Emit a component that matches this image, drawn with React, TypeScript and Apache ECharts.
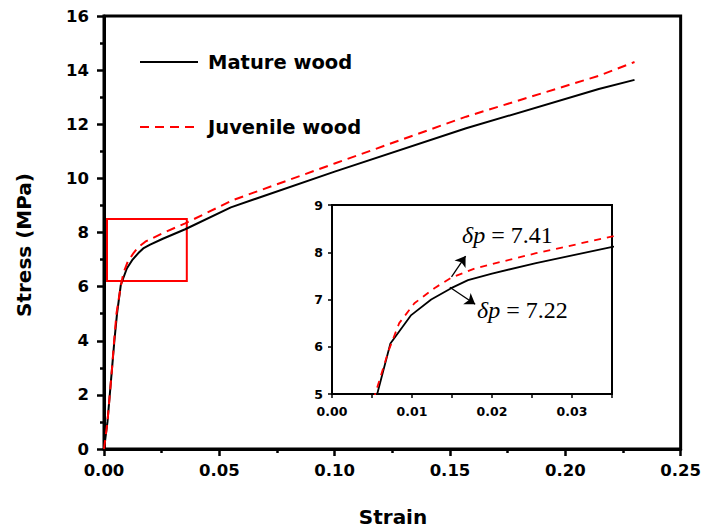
import React, { useEffect, useRef } from "react";
import * as echarts from "echarts";

const strainMature = [0, 0.0015, 0.0025, 0.0035, 0.0045, 0.00565, 0.0073, 0.0099, 0.0124, 0.0149, 0.017, 0.02, 0.0255, 0.0352, 0.055, 0.1, 0.157, 0.2145, 0.23];
const stressMature = [0, 1.0, 2.0, 3.0, 4.0, 5.0, 6.07, 6.67, 7.0, 7.24, 7.41, 7.55, 7.77, 8.12, 8.93, 10.25, 11.85, 13.3, 13.64];

const strainJuvenile = [0, 0.0015, 0.0025, 0.0035, 0.0044, 0.0054, 0.0071, 0.0084, 0.0103, 0.0128, 0.0149, 0.0179, 0.0255, 0.0352, 0.056, 0.1, 0.157, 0.2145, 0.23];
const stressJuvenile = [0, 1.0, 2.0, 3.0, 4.0, 5.0, 5.93, 6.5, 6.92, 7.24, 7.46, 7.66, 7.98, 8.34, 9.2, 10.55, 12.28, 13.79, 14.3];

// zoom box on the main chart: [xMin, yMin, xMax, yMax]
const zoomBox = [0.0013, 6.21, 0.0359, 8.5];

// arrows in inset: [x0, y0, x1, y1]
const arrowJuvenile = [0.01494, 7.48, 0.0167, 7.92];
const arrowMature = [0.01473, 7.26, 0.0179, 6.9];

const labelJuvenile = "7.41";
const labelMature = "7.22";

const seriesNames = ["Mature wood", "Juvenile wood"];

const pairs = (xs: number[], ys: number[]) => xs.map((x, i) => [x, ys[i]]);

const FONT = "DejaVu Sans";

export default function App() {
  const ref = useRef<HTMLDivElement>(null);
  useEffect(() => {
    if (!ref.current) return;
    const chart = echarts.init(ref.current, null, { renderer: "svg" });
    const mature = pairs(strainMature, stressMature);
    const juvenile = pairs(strainJuvenile, stressJuvenile);
    const blackLine = { color: "#000", width: 2, type: "solid" as const };
    const redLine = { color: "#ff0000", width: 2, type: [9, 6] as any };
    const mainLabel = { fontFamily: FONT, fontWeight: "bold" as const, fontSize: 16.5, color: "#000" };
    const insetLabel = { fontFamily: FONT, fontWeight: "bold" as const, fontSize: 12.5, color: "#000" };
    chart.setOption({
      animation: false,
      backgroundColor: "#fff",
      legend: {
        data: seriesNames,
        orient: "vertical",
        left: 134,
        top: 47,
        itemWidth: 58,
        itemHeight: 14,
        itemGap: 45,
        itemStyle: { opacity: 0 },
        textStyle: { fontFamily: FONT, fontWeight: "bold", fontSize: 19.5, color: "#000", padding: [0, 0, 0, 5] },
        selectedMode: false,
      },
      grid: [
        { left: 104, right: 21, top: 16, bottom: 80, show: true, borderColor: "#000", borderWidth: 3, backgroundColor: "transparent" },
        { left: 332, top: 205, width: 280, height: 189, show: true, borderColor: "#000", borderWidth: 2, backgroundColor: "#fff" },
      ],
      xAxis: [
        {
          type: "value", gridIndex: 0, min: 0, max: 0.25, interval: 0.05,
          axisLine: { show: true, lineStyle: { color: "#000", width: 3 } },
          axisTick: { show: true, inside: false, length: 7, lineStyle: { color: "#000", width: 2.5 } },
          minorTick: { show: true, splitNumber: 2, length: 4, lineStyle: { color: "#000", width: 2.5 } },
          splitLine: { show: false },
          axisLabel: { ...mainLabel, margin: 13, formatter: (v: number) => v.toFixed(2) },
        },
        {
          type: "value", gridIndex: 1, min: 0, max: 0.035, interval: 0.01,
          axisLine: { show: true, lineStyle: { color: "#000", width: 2 } },
          axisTick: { show: true, inside: false, length: 4, lineStyle: { color: "#000", width: 1.5 } },
          minorTick: { show: true, splitNumber: 2, length: 4, lineStyle: { color: "#000", width: 1.5 } },
          splitLine: { show: false },
          axisLabel: { ...insetLabel, margin: 11, showMaxLabel: false, formatter: (v: number) => v.toFixed(2) },
        },
      ],
      yAxis: [
        {
          type: "value", gridIndex: 0, min: 0, max: 16, interval: 2,
          axisLine: { show: true, lineStyle: { color: "#000", width: 3 } },
          axisTick: { show: true, inside: false, length: 7, lineStyle: { color: "#000", width: 2.5 } },
          minorTick: { show: true, splitNumber: 2, length: 4, lineStyle: { color: "#000", width: 2.5 } },
          splitLine: { show: false },
          axisLabel: { ...mainLabel, margin: 15 },
        },
        {
          type: "value", gridIndex: 1, min: 5, max: 9, interval: 1,
          axisLine: { show: true, lineStyle: { color: "#000", width: 2 } },
          axisTick: { show: true, inside: false, length: 4, lineStyle: { color: "#000", width: 1.5 } },
          splitLine: { show: false },
          axisLabel: { ...insetLabel, margin: 9 },
        },
      ],
      series: [
        {
          name: seriesNames[0], type: "line", xAxisIndex: 0, yAxisIndex: 0, data: mature,
          symbol: "none", lineStyle: blackLine, itemStyle: { color: "#000" }, z: 3,
          markArea: {
            silent: true,
            itemStyle: { color: "rgba(0,0,0,0)", borderColor: "#ff0000", borderWidth: 2 },
            data: [[{ xAxis: zoomBox[0], yAxis: zoomBox[3] }, { xAxis: zoomBox[2], yAxis: zoomBox[1] }]],
          },
        },
        {
          name: seriesNames[1], type: "line", xAxisIndex: 0, yAxisIndex: 0, data: juvenile,
          symbol: "none", lineStyle: redLine, itemStyle: { color: "#ff0000" }, z: 3,
        },
        {
          name: seriesNames[0], type: "line", xAxisIndex: 1, yAxisIndex: 1, data: mature,
          symbol: "none", lineStyle: { ...blackLine, width: 1.8 }, itemStyle: { color: "#000" }, clip: true, z: 4,
          markLine: {
            silent: true,
            symbol: ["none", "arrow"],
            symbolSize: 10,
            label: { show: false },
            lineStyle: { color: "#000", width: 1.3, type: "solid" },
            data: [
              [{ coord: [arrowJuvenile[0], arrowJuvenile[1]] }, { coord: [arrowJuvenile[2], arrowJuvenile[3]] }],
              [{ coord: [arrowMature[0], arrowMature[1]] }, { coord: [arrowMature[2], arrowMature[3]] }],
            ],
          },
        },
        {
          name: seriesNames[1], type: "line", xAxisIndex: 1, yAxisIndex: 1, data: juvenile,
          symbol: "none", lineStyle: { ...redLine, width: 1.8, type: [7, 6] }, itemStyle: { color: "#ff0000" }, clip: true, z: 4,
        },
      ],
      graphic: [
        {
          type: "text", x: 24, y: 245, rotation: Math.PI / 2,
          style: { text: "Stress (MPa)", fontFamily: FONT, fontWeight: "bold", fontSize: 20, fill: "#000", textAlign: "center", textVerticalAlign: "middle" },
        },
        {
          type: "text", x: 393, y: 517,
          style: { text: "Strain", fontFamily: FONT, fontWeight: "bold", fontSize: 20, fill: "#000", textAlign: "center", textVerticalAlign: "middle" },
        },
        {
          type: "text", x: 462, y: 235, z: 10,
          style: {
            text: "{i|δp} = " + labelJuvenile,
            fontFamily: "Liberation Serif", fontSize: 24, fill: "#000", textVerticalAlign: "middle",
            rich: { i: { fontFamily: "Liberation Serif", fontStyle: "italic", fontSize: 24, fill: "#000" } },
          },
        },
        {
          type: "text", x: 477, y: 310, z: 10,
          style: {
            text: "{i|δp} = " + labelMature,
            fontFamily: "Liberation Serif", fontSize: 24, fill: "#000", textVerticalAlign: "middle",
            rich: { i: { fontFamily: "Liberation Serif", fontStyle: "italic", fontSize: 24, fill: "#000" } },
          },
        },
      ],
    });
    return () => chart.dispose();
  }, []);
  return <div ref={ref} style={{ width: 704, height: 529, position: "absolute", left: 0, top: 0 }} />;
}
